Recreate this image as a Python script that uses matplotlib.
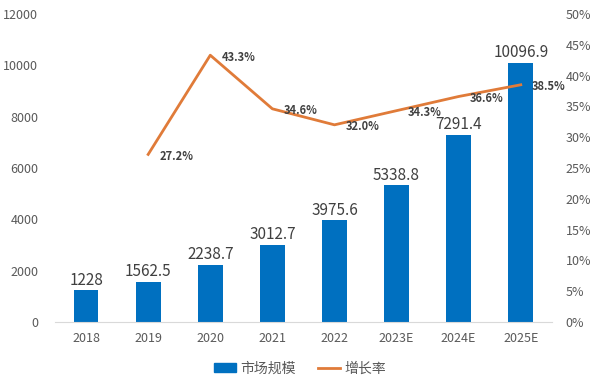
import matplotlib
matplotlib.use("Agg")
import matplotlib.pyplot as plt
from matplotlib.patches import Patch
from matplotlib.lines import Line2D

plt.rcParams['font.family'] = ['Noto Sans CJK SC', 'DejaVu Sans']

categories = ["2018", "2019", "2020", "2021", "2022", "2023E", "2024E", "2025E"]
market_size = [1228, 1562.5, 2238.7, 3012.7, 3975.6, 5338.8, 7291.4, 10096.9]
size_labels = ["1228", "1562.5", "2238.7", "3012.7", "3975.6", "5338.8", "7291.4", "10096.9"]
growth_cats = categories[1:]
growth = [27.2, 43.3, 34.6, 32.0, 34.3, 36.6, 38.5]

bar_color = "#0070C0"
line_color = "#E07B39"
tick_color = "#595959"

fig = plt.figure(figsize=(6, 3.87), dpi=100)
ax = fig.add_axes([0.0917, 0.168, 0.828, 0.796])
x = list(range(len(categories)))
ax.bar(x, market_size, width=0.4, color=bar_color, zorder=2)
for xi, v, lab in zip(x, market_size, size_labels):
    ax.annotate(lab, (xi, v), xytext=(0, 1), textcoords="offset points",
                ha="center", va="bottom", fontsize=11, color="#404040")
ax.set_ylim(0, 12000)
ax.set_yticks(range(0, 12001, 2000))
ax.set_xlim(-0.5, len(categories) - 0.5)
ax.set_xticks(x)
ax.set_xticklabels(categories)
for s in ["top", "right", "left"]:
    ax.spines[s].set_visible(False)
ax.spines["bottom"].set_color("#D9D9D9")
ax.tick_params(axis="both", length=0, colors=tick_color, labelsize=9)
ax.tick_params(axis="x", pad=7)
ax.tick_params(axis="y", pad=12)

ax2 = ax.twinx()
gx = [categories.index(c) for c in growth_cats]
ax2.plot(gx, growth, color=line_color, lw=2, zorder=3)
for xi, g in zip(gx, growth):
    ax2.annotate(f"{g:.1f}%", (xi, g), xytext=(8, -1.5), textcoords="offset points",
                 ha="left", va="center", fontsize=8, fontweight="bold", color="#404040")
ax2.set_ylim(0, 50)
ax2.set_yticks(range(0, 51, 5))
ax2.set_yticklabels([f"{v}%" for v in range(0, 51, 5)])
for s in ["top", "right", "left", "bottom"]:
    ax2.spines[s].set_visible(False)
ax2.tick_params(axis="y", length=0, colors=tick_color, labelsize=9, pad=10)

handles = [Patch(color=bar_color), Line2D([0], [0], color=line_color, lw=2)]
fig.legend(handles, ["市场规模", "增长率"], loc="center", bbox_to_anchor=(0.5, 0.048),
           ncol=2, frameon=False, fontsize=10, handlelength=1.6, handleheight=0.6,
           handletextpad=0.3, columnspacing=1.6, labelcolor=tick_color)

fig.savefig("out.png", dpi=100)
